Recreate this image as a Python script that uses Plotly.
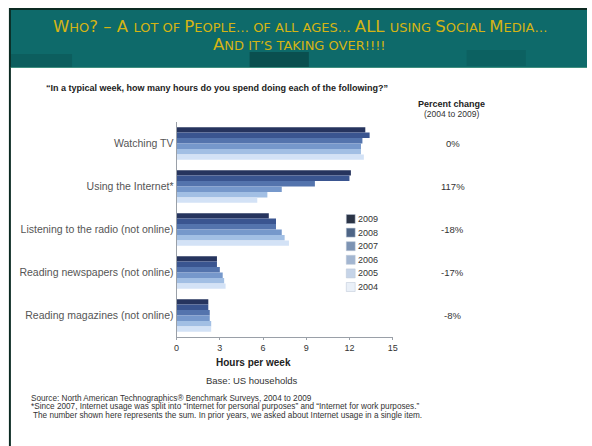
import plotly.graph_objects as go

W, H = 592, 446
def px(x): return x / W
def py(y): return 1 - y / H

categories = ["Watching TV", "Using the Internet*", "Listening to the radio (not online)",
              "Reading newspapers (not online)", "Reading magazines (not online)"]
years = ["2009", "2008", "2007", "2006", "2005", "2004"]
hours = {
    "2009": [13.1, 12.1, 6.4, 2.8, 2.2],
    "2008": [13.4, 12.0, 6.9, 2.8, 2.2],
    "2007": [12.9, 9.6, 6.9, 3.0, 2.3],
    "2006": [12.8, 7.3, 7.3, 3.2, 2.3],
    "2005": [12.8, 6.3, 7.5, 3.3, 2.4],
    "2004": [13.0, 5.6, 7.8, 3.4, 2.4],
}
pct_change = ["0%", "117%", "-18%", "-17%", "-8%"]
x_ticks = [0, 3, 6, 9, 12, 15]
colors = {"2009": "#26345e", "2008": "#3a5590", "2007": "#5474ad",
          "2006": "#7698cb", "2005": "#a2bfe4", "2004": "#d3e2f6"}
legend_colors = {"2009": "#2b3446", "2008": "#4e6586", "2007": "#7d93b3",
                 "2006": "#a3b6d1", "2005": "#c6d4e8", "2004": "#eaf0f8"}

fig = go.Figure()
for yr in years:
    fig.add_trace(go.Bar(y=categories, x=hours[yr], orientation="h", name=yr,
                         marker=dict(color=colors[yr], line=dict(width=0)),
                         showlegend=False))

shapes = []
shapes.append(dict(type="rect", xref="paper", yref="paper", x0=px(6), x1=px(592), y0=py(446), y1=py(8),
                   fillcolor="#0b2a22", line=dict(width=0), layer="below"))
shapes.append(dict(type="rect", xref="paper", yref="paper", x0=px(8), x1=px(592), y0=py(446), y1=py(67),
                   fillcolor="white", line=dict(width=0), layer="below"))
shapes.append(dict(type="rect", xref="paper", yref="paper", x0=px(8), x1=px(592), y0=py(67), y1=py(10),
                   fillcolor="#0e6a6a", line=dict(width=0), layer="below"))
for (x0, x1, y0, y1, c, op) in [(8, 70, 54, 67, "#084848", 0.35), (250, 310, 52, 67, "#062e2e", 0.45),
                                (470, 530, 50, 66, "#0a4c4c", 0.3)]:
    shapes.append(dict(type="rect", xref="paper", yref="paper", x0=px(x0), x1=px(x1), y0=py(y1), y1=py(y0),
                       fillcolor=c, opacity=op, line=dict(width=0), layer="below"))
shapes.append(dict(type="line", xref="paper", yref="paper", x0=px(8), x1=px(592), y0=py(67.5), y1=py(67.5),
                   line=dict(color="#3f8f7f", width=1)))

annotations = []
for i, yr in enumerate(years):
    yc = 219 + i * 13.6
    shapes.append(dict(type="rect", xref="paper", yref="paper", x0=px(348), x1=px(357),
                       y0=py(yc + 4.5), y1=py(yc - 4.5), fillcolor=legend_colors[yr],
                       line=dict(color="#b8c4d4", width=0.5)))
    annotations.append(dict(text=yr, x=px(358), y=py(yc), xref="paper", yref="paper",
                            xanchor="left", yanchor="middle", showarrow=False,
                            font=dict(size=9, color="#333")))

B = 16.5
S = 13
def big(t): return f'<span style="font-size:{B}px">{t}</span>'
def small(t): return f'<span style="font-size:{S}px">{t}</span>'
line1 = (big("W") + small("HO") + big("? – A ") + small("LOT OF ") + big("P") + small("EOPLE… OF ALL AGES… ")
         + big("ALL ") + small("USING ") + big("S") + small("OCIAL ") + big("M") + small("EDIA…"))
line2 = big("A") + small("ND IT’S TAKING OVER!!!!")
for t, yy in [(line1, 27), (line2, 45)]:
    annotations.append(dict(text=t, x=px(301), y=py(yy), xref="paper", yref="paper", showarrow=False,
                            xanchor="center", yanchor="middle",
                            font=dict(family="DejaVu Sans", size=B, color="#d4b414")))

annotations.append(dict(text="<b>“In a typical week, how many hours do you spend doing each of the following?”</b>",
                        x=px(42), y=py(88), xref="paper", yref="paper", showarrow=False,
                        xanchor="left", yanchor="middle", font=dict(size=9, color="#222")))
annotations.append(dict(text="<b>Percent change</b>", x=px(455), y=py(104), xref="paper", yref="paper",
                        showarrow=False, xanchor="center", yanchor="middle", font=dict(size=9, color="#222")))
annotations.append(dict(text="(2004 to 2009)", x=px(455), y=py(114), xref="paper", yref="paper",
                        showarrow=False, xanchor="center", yanchor="middle", font=dict(size=8.5, color="#333")))
for cat, p in zip(categories, pct_change):
    annotations.append(dict(text=p, x=px(456), y=cat, xref="paper", yref="y", showarrow=False,
                            xanchor="center", yanchor="middle", font=dict(size=9.5, color="#333")))
annotations.append(dict(text="<b>Hours per week</b>", x=px(254), y=py(362), xref="paper", yref="paper",
                        showarrow=False, xanchor="center", yanchor="middle", font=dict(size=10, color="#222")))
annotations.append(dict(text="Base: US households", x=px(252), y=py(380), xref="paper", yref="paper",
                        showarrow=False, xanchor="center", yanchor="middle", font=dict(size=9.5, color="#333")))
foot = ["Source: North American Technographics® Benchmark Surveys, 2004 to 2009",
        "*Since 2007, Internet usage was split into “Internet for personal purposes” and “Internet for work purposes.”",
        "The number shown here represents the sum. In prior years, we asked about Internet usage in a single item."]
for i, t in enumerate(foot):
    annotations.append(dict(text=t, x=px(26 if i < 2 else 28), y=py(398 + i * 8.5), xref="paper", yref="paper",
                            showarrow=False, xanchor="left", yanchor="middle", font=dict(size=8.2, color="#333")))

fig.update_layout(
    width=W, height=H, margin=dict(l=0, r=0, t=0, b=0),
    paper_bgcolor="white", plot_bgcolor="rgba(0,0,0,0)",
    barmode="group", bargap=0.24, bargroupgap=0,
    font=dict(family="Liberation Sans", color="#333"),
    xaxis=dict(domain=[px(176), px(395)], range=[0, 15], tickvals=x_ticks, showgrid=False,
               zeroline=False, showline=True, linecolor="#9aa0a8", linewidth=1,
               ticks="outside", ticklen=2, tickcolor="#9aa0a8", tickfont=dict(size=9, color="#333")),
    yaxis=dict(domain=[py(337), py(122)], autorange="reversed", showgrid=False, showline=True,
               linecolor="#9aa0a8", linewidth=1, ticks="", tickfont=dict(size=10.5, color="#555")),
    shapes=shapes, annotations=annotations,
)
fig.write_html("out.html", config={"displayModeBar": False})
with open("out.html", "r", encoding="utf-8") as f:
    html = f.read()
html = html.replace("<body>", '<body style="margin:0;padding:0;overflow:hidden">', 1)
with open("out.html", "w", encoding="utf-8") as f:
    f.write(html)
